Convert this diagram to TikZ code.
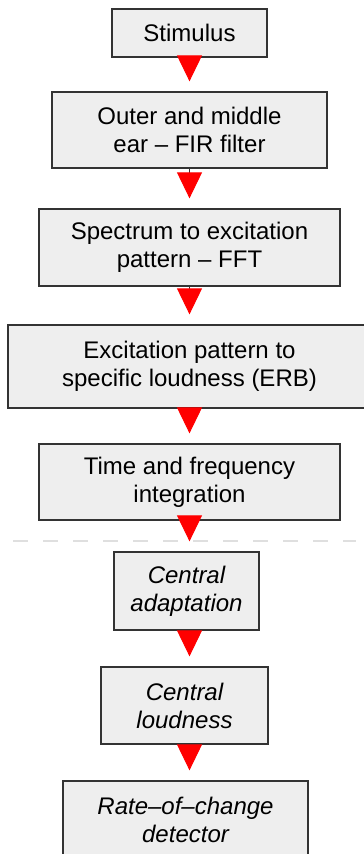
\documentclass[tikz,border=0pt]{standalone}
\usepackage{fontspec}
\setmainfont{Liberation Sans}
\usetikzlibrary{arrows.meta}

\definecolor{boxfill}{HTML}{EEEEEE}
\definecolor{boxline}{HTML}{333333}

\begin{document}
\begin{tikzpicture}[
  x=1pt, y=-1pt,
  stage/.style={
    draw=boxline,
    fill=boxfill,
    line width=1.3pt,
    align=center,
    inner sep=0pt,
    font=\fontsize{24}{28}\selectfont
  },
  central/.style={stage, font=\fontsize{24}{28}\selectfont\itshape},
  flow/.style={
    draw=boxline,
    line width=1pt,
    -{Triangle[length=26pt,width=25pt,red]},
    shorten >=10pt
  }
]

  \clip (0,0) rectangle (364,854);

  % Peripheral stages
  \node[stage, minimum width=155pt, minimum height=48pt] (stim) at (189.5,33) {Stimulus};
  \node[stage, minimum width=275pt, minimum height=76pt] (ear) at (189.5,130) {Outer and middle\\ear -- FIR filter};
  \node[stage, minimum width=301pt, minimum height=77pt] (spec) at (189.5,247.5) {Spectrum to excitation\\pattern -- FFT};
  \node[stage, minimum width=363pt, minimum height=83pt] (excit) at (189.5,366.5) {Excitation pattern to\\specific loudness (ERB)};
  \node[stage, minimum width=301pt, minimum height=76pt] (integ) at (189.5,482) {Time and frequency\\integration};

  % Boundary between the two groups
  \coordinate (cutL) at (13,541);
  \coordinate (cutR) at (356,541);
  \draw[gray!25, line width=1.2pt, dash pattern=on 15pt off 15pt] (cutL) -- (cutR);

  % Central stages
  \node[central, minimum width=145pt, minimum height=78pt] (adapt) at (186.5,591) {Central\\adaptation};
  \node[central, minimum width=167pt, minimum height=77pt] (loud) at (184.5,705.5) {Central\\loudness};
  \node[central, minimum width=245pt, minimum height=78pt] (rate) at (185.5,820) {Rate--of--change\\detector};

  % Processing chain
  \coordinate (spine) at (189.5,0);
  \path (stim) edge[flow] (ear);
  \path (ear) edge[flow] (spec);
  \path (spec) edge[flow] (excit);
  \path (excit) edge[flow] (integ);
  \draw[flow] (integ.south -| spine) -- (adapt.north -| spine);
  \draw[flow] (adapt.south -| spine) -- (loud.north -| spine);
  \draw[flow] (loud.south -| spine) -- (rate.north -| spine);

\end{tikzpicture}
\end{document}
